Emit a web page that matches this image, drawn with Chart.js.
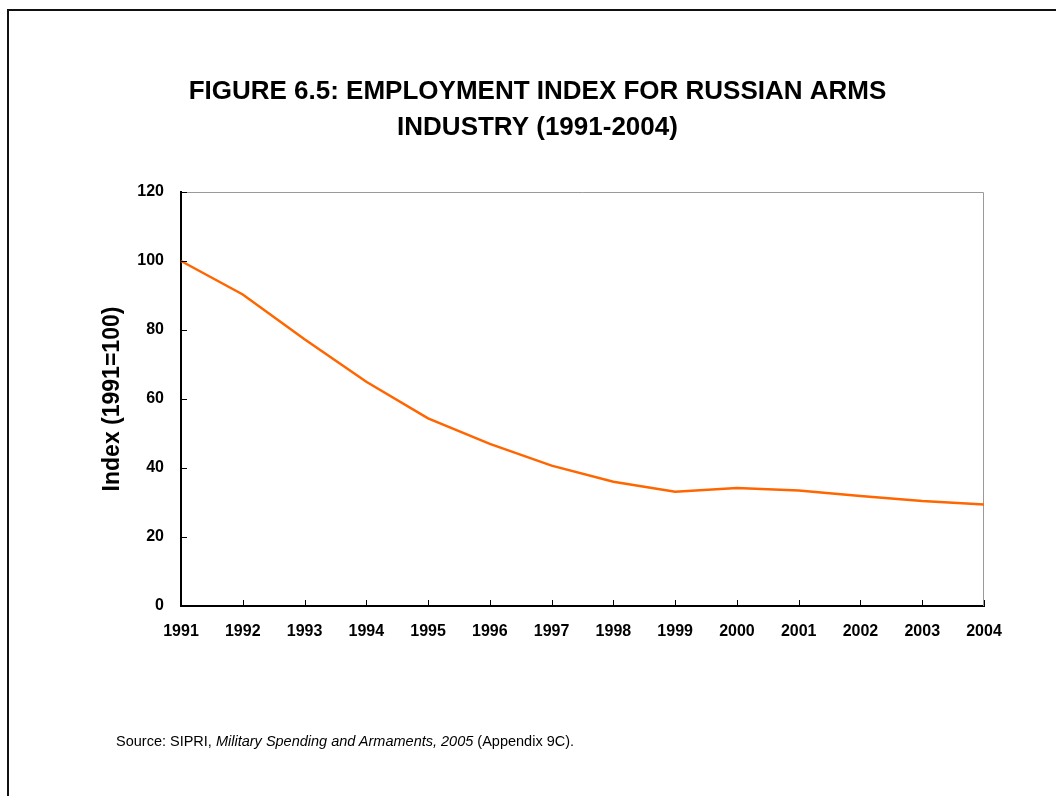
<!DOCTYPE html>
<html>
<head>
<meta charset="utf-8">
<script src="https://cdn.jsdelivr.net/npm/chart.js@4.4.0/dist/chart.umd.min.js"></script>
<style>
  html, body { margin: 0; padding: 0; background: #fff; }
  #wrap { position: relative; width: 1056px; height: 796px; overflow: hidden; }
  #frame { position: absolute; left: 7px; top: 9px; width: 1200px; height: 1000px;
           border-left: 2px solid #111; border-top: 2px solid #111; }
  #employmentChart { position: absolute; left: 0; top: 0; }
  #source { position: absolute; left: 116px; top: 733px; font: 14.5px "Liberation Sans", Arial, sans-serif;
            line-height: 17px; color: #000; white-space: nowrap; }
</style>
</head>
<body>
<div id="wrap">
  <div id="frame"></div>
  <canvas id="employmentChart" width="1056" height="796"></canvas>
  <div id="source">Source: SIPRI, <i>Military Spending and Armaments, 2005</i> (Appendix 9C).</div>
</div>
<script>
// data
const years = ['1991', '1992', '1993', '1994', '1995', '1996', '1997',
               '1998', '1999', '2000', '2001', '2002', '2003', '2004'];
const employmentIndex = [100, 90.3, 77.3, 65, 54.4, 47, 40.7, 36, 33.1, 34.2, 33.5, 31.9, 30.4, 29.4];
const yMin = 0;
const yMax = 120;
const yStep = 20;

const labelFont = { family: '"Liberation Sans", Arial, sans-serif', size: 16, weight: 'bold' };

// plot box: gray top/right edge, inward tick marks like the original Excel chart
const frameAndTicks = {
    id: 'frameAndTicks',
    beforeDatasetsDraw(chart) {
        const { ctx, chartArea: a } = chart;
        ctx.save();
        ctx.strokeStyle = '#9a9a9a';
        ctx.lineWidth = 1;
        ctx.beginPath();
        ctx.moveTo(a.left, a.top + 0.5);
        ctx.lineTo(a.right - 0.5, a.top + 0.5);
        ctx.lineTo(a.right - 0.5, a.bottom);
        ctx.stroke();
        ctx.restore();
    },
    afterDraw(chart) {
        const { ctx, chartArea: a, scales } = chart;
        ctx.save();
        ctx.strokeStyle = '#000';
        ctx.lineWidth = 1;
        ctx.beginPath();
        scales.y.ticks.forEach((t, i) => {
            const y = Math.round(scales.y.getPixelForTick(i)) + 0.5;
            ctx.moveTo(a.left, y);
            ctx.lineTo(a.left + 6, y);
        });
        scales.x.ticks.forEach((t, i) => {
            const x = Math.round(scales.x.getPixelForTick(i)) + 0.5;
            ctx.moveTo(x, a.bottom);
            ctx.lineTo(x, a.bottom - 6);
        });
        ctx.stroke();
        ctx.restore();
    }
};

const ctx = document.getElementById('employmentChart').getContext('2d');
const employmentChart = new Chart(ctx, {
    type: 'line',
    data: {
        labels: years,
        datasets: [{
            label: 'Employment index',
            data: employmentIndex,
            borderColor: '#ff6600',
            backgroundColor: '#ff6600',
            borderWidth: 2.5,
            pointRadius: 0,
            tension: 0,
            fill: false
        }]
    },
    options: {
        responsive: false,
        animation: false,
        devicePixelRatio: 1,
        layout: { padding: { top: 0, left: 91, right: 72, bottom: 150 } },
        plugins: {
            legend: { display: false },
            tooltip: { enabled: false },
            title: {
                display: true,
                text: ['FIGURE 6.5: EMPLOYMENT INDEX FOR RUSSIAN ARMS', 'INDUSTRY (1991-2004)'],
                color: '#000',
                font: { family: '"Liberation Sans", Arial, sans-serif', size: 26, weight: 'bold', lineHeight: 36 / 26 },
                padding: { top: 74, bottom: 46 }
            }
        },
        scales: {
            x: {
                offset: false,
                grid: { display: false, drawTicks: false },
                border: { display: true, color: '#000', width: 2 },
                ticks: { color: '#000', font: labelFont, padding: 16, maxRotation: 0, autoSkip: false },
                afterFit(scale) { scale.height = 40; }
            },
            y: {
                min: yMin,
                max: yMax,
                grid: { display: false, drawTicks: false },
                border: { display: true, color: '#000', width: 2 },
                ticks: { stepSize: yStep, color: '#000', font: labelFont, padding: 17 },
                title: {
                    display: true,
                    text: 'Index (1991=100)',
                    color: '#000',
                    font: { family: '"Liberation Sans", Arial, sans-serif', size: 23, weight: 'bold' },
                    padding: { top: 8, bottom: 0 }
                },
                afterFit(scale) { scale.width = 90; }
            }
        }
    },
    plugins: [frameAndTicks]
});
</script>
</body>
</html>
